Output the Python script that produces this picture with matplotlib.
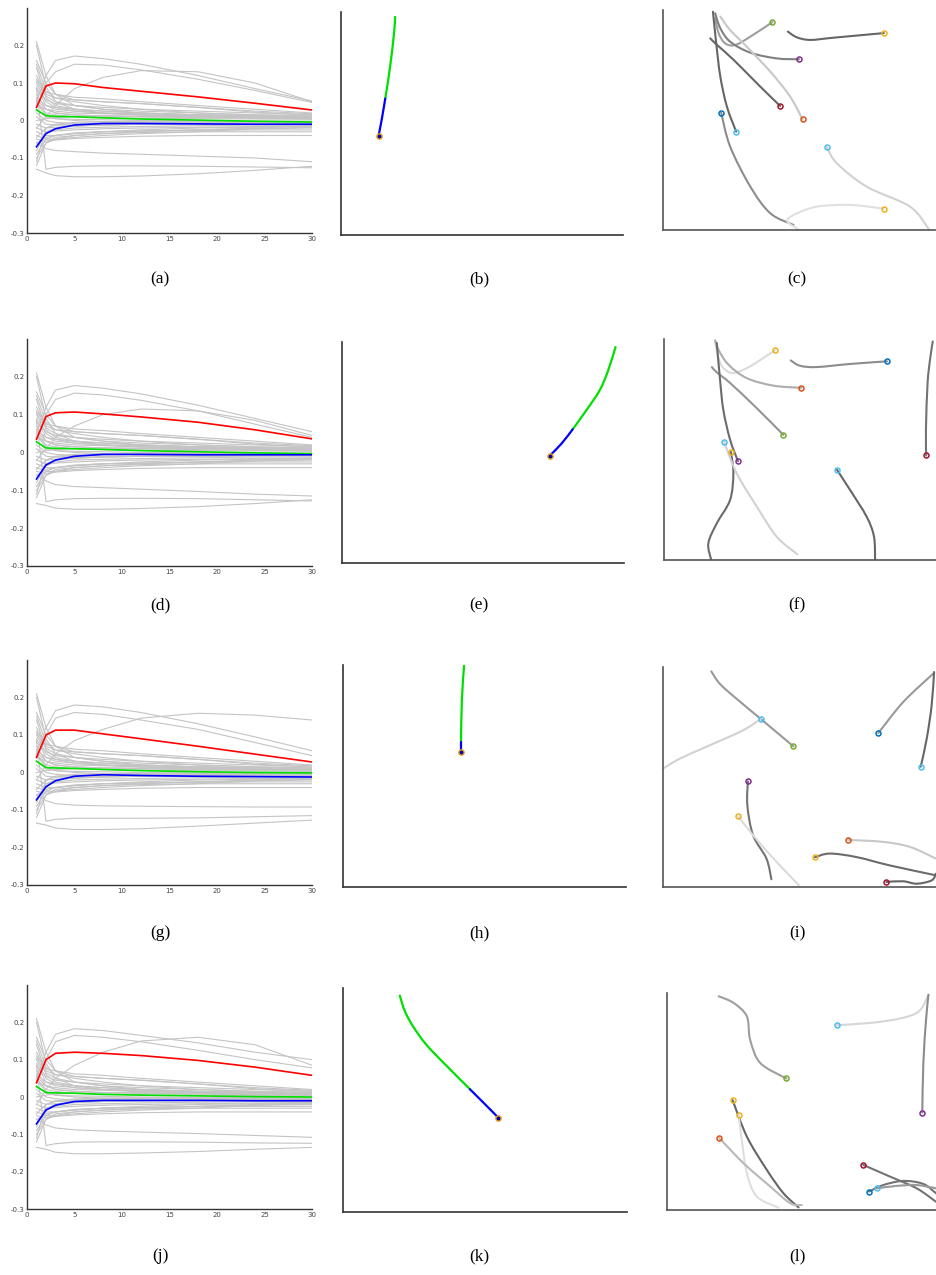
import matplotlib
matplotlib.use("Agg")
import matplotlib.pyplot as plt
from matplotlib.path import Path
from matplotlib.patches import PathPatch

W, H = 936, 1275
fig = plt.figure(figsize=(W / 100, H / 100), dpi=100)

# ---------------- data: impulse-response style panels (a, d, g, j) -------------
knots = [1, 2, 3, 5, 8, 12, 18, 24, 30]

common_gray = [
    [0.21, 0.12, 0.07, 0.04, 0.03, 0.02, 0.015, 0.012, 0.01],
    [0.20, 0.09, 0.05, 0.03, 0.02, 0.015, 0.01, 0.008, 0.006],
    [0.16, 0.10, 0.07, 0.055, 0.05, 0.045, 0.035, 0.025, 0.018],
    [0.15, 0.08, 0.06, 0.05, 0.04, 0.03, 0.02, 0.015, 0.012],
    [0.14, 0.06, 0.04, 0.03, 0.025, 0.02, 0.015, 0.012, 0.01],
    [0.12, 0.07, 0.06, 0.055, 0.05, 0.045, 0.035, 0.022, 0.015],
    [0.11, 0.075, 0.07, 0.062, 0.058, 0.05, 0.04, 0.03, 0.02],
    [0.105, 0.065, 0.05, 0.04, 0.03, 0.025, 0.02, 0.015, 0.012],
    [0.10, 0.05, 0.035, 0.025, 0.02, 0.015, 0.012, 0.01, 0.008],
    [0.09, 0.04, 0.03, 0.025, 0.02, 0.018, 0.015, 0.012, 0.01],
    [0.08, 0.055, 0.045, 0.04, 0.035, 0.03, 0.025, 0.02, 0.015],
    [0.07, 0.03, 0.02, 0.015, 0.012, 0.01, 0.008, 0.006, 0.005],
    [0.06, 0.04, 0.035, 0.03, 0.025, 0.02, 0.015, 0.012, 0.01],
    [0.055, 0.03, 0.02, 0.015, 0.012, 0.01, 0.008, 0.007, 0.006],
    [0.05, 0.02, 0.015, 0.01, 0.008, 0.006, 0.005, 0.004, 0.003],
    [0.045, 0.015, 0.005, 0.0, -0.003, -0.004, -0.005, -0.005, -0.005],
    [0.04, 0.03, 0.025, 0.02, 0.018, 0.015, 0.012, 0.01, 0.008],
    [0.03, 0.01, 0.005, 0.003, 0.002, 0.0, -0.001, -0.002, -0.002],
    [0.02, 0.0, -0.005, -0.008, -0.01, -0.01, -0.01, -0.008, -0.006],
    [0.01, -0.01, -0.012, -0.013, -0.012, -0.01, -0.008, -0.007, -0.006],
    [0.0, 0.005, 0.008, 0.01, 0.012, 0.012, 0.01, 0.008, 0.006],
    [-0.01, -0.02, -0.018, -0.015, -0.012, -0.01, -0.009, -0.008, -0.008],
    [-0.02, -0.03, -0.028, -0.025, -0.022, -0.02, -0.018, -0.016, -0.015],
    [-0.03, -0.04, -0.04, -0.035, -0.03, -0.025, -0.02, -0.018, -0.016],
    [-0.04, -0.05, -0.05, -0.045, -0.04, -0.035, -0.03, -0.022, -0.018],
    [-0.045, -0.02, -0.012, -0.008, -0.006, -0.005, -0.004, -0.004, -0.004],
    [-0.05, -0.055, -0.052, -0.048, -0.045, -0.042, -0.04, -0.04, -0.04],
    [-0.06, -0.045, -0.04, -0.035, -0.03, -0.028, -0.025, -0.022, -0.02],
    [-0.07, -0.035, -0.025, -0.02, -0.018, -0.016, -0.014, -0.012, -0.012],
    [-0.08, -0.03, -0.02, -0.015, -0.012, -0.01, -0.01, -0.009, -0.009],
    [-0.09, -0.05, -0.04, -0.033, -0.03, -0.028, -0.026, -0.025, -0.025],
    [-0.10, -0.06, -0.045, -0.04, -0.035, -0.032, -0.03, -0.03, -0.03],
    [-0.11, -0.02, -0.01, -0.005, -0.003, -0.002, -0.002, -0.002, -0.002],
    [-0.12, -0.06, -0.05, -0.04, -0.035, -0.03, -0.025, -0.02, -0.015],
]

gray_a = [
    [0.05, 0.12, 0.16, 0.172, 0.165, 0.15, 0.12, 0.085, 0.052],
    [0.06, 0.10, 0.13, 0.15, 0.148, 0.135, 0.11, 0.08, 0.048],
    [-0.02, 0.01, 0.04, 0.085, 0.115, 0.133, 0.13, 0.1, 0.05],
    [-0.06, -0.075, -0.08, -0.083, -0.087, -0.09, -0.095, -0.10, -0.11],
    [0.085, -0.13, -0.125, -0.122, -0.121, -0.121, -0.122, -0.124, -0.126],
    [-0.13, -0.14, -0.147, -0.15, -0.15, -0.148, -0.142, -0.133, -0.122],
]
red_a = [0.035, 0.092, 0.10, 0.098, 0.088, 0.078, 0.063, 0.046, 0.028]
green_a = [0.028, 0.013, 0.011, 0.010, 0.007, 0.004, 0.001, -0.002, -0.004]
blue_a = [-0.07, -0.035, -0.022, -0.012, -0.008, -0.008, -0.009, -0.010, -0.010]

gray_d = [
    [0.05, 0.12, 0.165, 0.177, 0.17, 0.155, 0.125, 0.09, 0.055],
    [0.06, 0.10, 0.14, 0.157, 0.152, 0.138, 0.11, 0.075, 0.04],
    [-0.02, 0.01, 0.04, 0.07, 0.10, 0.115, 0.11, 0.085, 0.045],
    [-0.06, -0.075, -0.085, -0.09, -0.093, -0.097, -0.103, -0.11, -0.115],
    [0.085, -0.13, -0.125, -0.122, -0.121, -0.121, -0.122, -0.125, -0.128],
    [-0.135, -0.14, -0.147, -0.15, -0.15, -0.148, -0.143, -0.135, -0.125],
]
red_d = [0.035, 0.095, 0.105, 0.107, 0.102, 0.094, 0.080, 0.060, 0.036]
green_d = [0.028, 0.012, 0.011, 0.010, 0.008, 0.005, 0.002, -0.001, -0.003]
blue_d = [-0.07, -0.033, -0.020, -0.010, -0.005, -0.005, -0.006, -0.006, -0.006]

gray_g = [
    [0.05, 0.12, 0.165, 0.18, 0.175, 0.16, 0.13, 0.095, 0.058],
    [0.06, 0.10, 0.145, 0.16, 0.155, 0.14, 0.115, 0.08, 0.045],
    [-0.02, 0.02, 0.05, 0.085, 0.115, 0.145, 0.158, 0.153, 0.14],
    [-0.06, -0.075, -0.083, -0.087, -0.089, -0.09, -0.091, -0.092, -0.092],
    [0.085, -0.13, -0.125, -0.122, -0.122, -0.122, -0.121, -0.118, -0.115],
    [-0.135, -0.14, -0.148, -0.152, -0.152, -0.15, -0.143, -0.135, -0.127],
]
red_g = [0.04, 0.10, 0.113, 0.113, 0.103, 0.090, 0.070, 0.049, 0.028]
green_g = [0.030, 0.013, 0.012, 0.011, 0.008, 0.005, 0.002, 0.000, -0.001]
blue_g = [-0.073, -0.038, -0.022, -0.010, -0.006, -0.008, -0.010, -0.011, -0.012]

gray_j = [
    [0.05, 0.12, 0.168, 0.183, 0.178, 0.165, 0.145, 0.12, 0.10],
    [0.06, 0.10, 0.148, 0.165, 0.16, 0.148, 0.125, 0.10, 0.078],
    [-0.02, 0.02, 0.05, 0.085, 0.12, 0.15, 0.16, 0.14, 0.085],
    [-0.06, -0.075, -0.083, -0.088, -0.091, -0.094, -0.098, -0.103, -0.108],
    [0.085, -0.13, -0.125, -0.121, -0.12, -0.12, -0.121, -0.123, -0.124],
    [-0.135, -0.14, -0.148, -0.152, -0.152, -0.15, -0.146, -0.14, -0.135],
]
red_j = [0.038, 0.10, 0.117, 0.120, 0.117, 0.111, 0.098, 0.080, 0.058]
green_j = [0.028, 0.012, 0.011, 0.010, 0.007, 0.005, 0.003, 0.001, 0.000]
blue_j = [-0.072, -0.035, -0.022, -0.012, -0.009, -0.009, -0.009, -0.010, -0.010]

x_ticks = [0, 5, 10, 15, 20, 25, 30]
y_ticks = [-0.3, -0.2, -0.1, 0, 0.1, 0.2]
y_ticklabels = ["-0.3", "-0.2", "-0.1", "0", "0.1", "0.2"]

# ---------------- data: single trajectory panels (b, e, h, k) -----------------
traj_b_blue = [(0.133, 0.443), (0.145, 0.522), (0.157, 0.612)]
traj_b_green = [(0.157, 0.612), (0.169, 0.709), (0.180, 0.813), (0.186, 0.881), (0.190, 0.933), (0.192, 0.978)]
traj_e_blue = [(0.737, 0.486), (0.779, 0.541), (0.818, 0.605)]
traj_e_green = [(0.818, 0.605), (0.867, 0.692), (0.914, 0.782), (0.944, 0.872), (0.970, 0.977)]
traj_h_blue = [(0.417, 0.608), (0.417, 0.655)]
traj_h_green = [(0.417, 0.655), (0.420, 0.842), (0.428, 1.0)]
traj_k_blue = [(0.547, 0.421), (0.497, 0.485), (0.447, 0.548)]
traj_k_green = [(0.447, 0.548), (0.365, 0.652), (0.294, 0.746), (0.247, 0.828), (0.218, 0.896), (0.200, 0.966)]

# ---------------- data: multi trajectory panels (c, f, i, l) ------------------
mc = {"blue": "#0072BD", "orange": "#D95319", "yellow": "#EDB120", "purple": "#7E2F8E",
      "green": "#77AC30", "lightblue": "#4DBEEE", "darkred": "#A2142F"}

tracks_c = [
    ("green", 0.62, [(0.401, 0.945), (0.320, 0.879), (0.265, 0.841), (0.228, 0.848), (0.204, 0.894), (0.191, 0.962)]),
    ("yellow", 0.40, [(0.809, 0.895), (0.624, 0.874), (0.539, 0.864), (0.490, 0.876), (0.457, 0.902)]),
    ("purple", 0.50, [(0.498, 0.776), (0.417, 0.780), (0.320, 0.806), (0.246, 0.856), (0.210, 0.917), (0.191, 0.985)]),
    ("darkred", 0.40, [(0.429, 0.564), (0.356, 0.652), (0.259, 0.773), (0.198, 0.841), (0.173, 0.871)]),
    ("orange", 0.78, [(0.511, 0.503), (0.466, 0.606), (0.393, 0.720), (0.307, 0.833), (0.246, 0.909), (0.210, 0.970)]),
    ("blue", 0.55, [(0.213, 0.533), (0.246, 0.379), (0.320, 0.197), (0.393, 0.076), (0.478, 0.023)]),
    ("lightblue", 0.40, [(0.268, 0.447), (0.234, 0.561), (0.210, 0.697), (0.195, 0.848), (0.183, 0.992)]),
    ("lightblue", 0.82, [(0.600, 0.377), (0.637, 0.303), (0.746, 0.197), (0.905, 0.106), (0.976, 0.0)]),
    ("yellow", 0.88, [(0.809, 0.097), (0.685, 0.114), (0.563, 0.106), (0.478, 0.068), (0.456, 0.038), (0.496, 0.003)]),
]
tracks_f = [
    ("yellow", 0.86, [(0.408, 0.949), (0.316, 0.876), (0.255, 0.846), (0.218, 0.869), (0.200, 0.914), (0.188, 0.989)]),
    ("blue", 0.55, [(0.820, 0.899), (0.684, 0.887), (0.561, 0.873), (0.500, 0.879), (0.466, 0.903)]),
    ("orange", 0.68, [(0.505, 0.779), (0.402, 0.789), (0.304, 0.823), (0.237, 0.884), (0.200, 0.952), (0.188, 0.994)]),
    ("green", 0.58, [(0.439, 0.566), (0.341, 0.687), (0.243, 0.801), (0.194, 0.849), (0.176, 0.873)]),
    ("purple", 0.42, [(0.272, 0.447), (0.243, 0.544), (0.218, 0.680), (0.206, 0.816), (0.194, 0.982)]),
    ("yellow", 0.42, [(0.246, 0.489), (0.255, 0.393), (0.243, 0.272), (0.194, 0.166), (0.163, 0.076), (0.173, 0.003)]),
    ("lightblue", 0.82, [(0.221, 0.535), (0.267, 0.393), (0.341, 0.242), (0.414, 0.106), (0.490, 0.026)]),
    ("lightblue", 0.40, [(0.636, 0.408), (0.684, 0.317), (0.745, 0.196), (0.772, 0.106), (0.776, 0.003)]),
    ("darkred", 0.45, [(0.964, 0.473), (0.963, 0.589), (0.969, 0.800), (0.978, 0.906), (0.988, 0.989)]),
]
tracks_i = [
    ("green", 0.60, [(0.478, 0.639), (0.358, 0.764), (0.269, 0.856), (0.208, 0.924), (0.177, 0.980)]),
    ("lightblue", 0.82, [(0.358, 0.764), (0.293, 0.712), (0.171, 0.644), (0.061, 0.583), (0.0, 0.538)]),
    ("blue", 0.60, [(0.789, 0.700), (0.880, 0.841), (0.990, 0.970)]),
    ("lightblue", 0.40, [(0.944, 0.547), (0.966, 0.674), (0.984, 0.826), (0.993, 0.977)]),
    ("purple", 0.45, [(0.311, 0.480), (0.309, 0.371), (0.330, 0.235), (0.379, 0.129), (0.397, 0.035)]),
    ("yellow", 0.86, [(0.276, 0.321), (0.330, 0.235), (0.416, 0.114), (0.498, 0.008)]),
    ("orange", 0.78, [(0.678, 0.214), (0.807, 0.205), (0.905, 0.182), (1.0, 0.129)]),
    ("yellow", 0.42, [(0.556, 0.135), (0.611, 0.152), (0.709, 0.136), (0.831, 0.098), (1.0, 0.053)]),
    ("darkred", 0.40, [(0.818, 0.023), (0.880, 0.026), (0.929, 0.015), (0.984, 0.030), (1.0, 0.061)]),
]
tracks_l = [
    ("green", 0.62, [(0.444, 0.606), (0.347, 0.677), (0.309, 0.785), (0.297, 0.892), (0.248, 0.954), (0.192, 0.985)]),
    ("lightblue", 0.84, [(0.631, 0.851), (0.804, 0.869), (0.928, 0.908), (0.972, 0.992)]),
    ("purple", 0.55, [(0.949, 0.449), (0.953, 0.677), (0.963, 0.877), (0.972, 0.992)]),
    ("yellow", 0.40, [(0.244, 0.506), (0.297, 0.338), (0.371, 0.185), (0.433, 0.077), (0.489, 0.012)]),
    ("yellow", 0.87, [(0.266, 0.440), (0.278, 0.323), (0.297, 0.169), (0.334, 0.062), (0.415, 0.011)]),
    ("orange", 0.72, [(0.194, 0.332), (0.285, 0.215), (0.384, 0.108), (0.458, 0.031), (0.501, 0.023)]),
    ("darkred", 0.45, [(0.729, 0.208), (0.829, 0.154), (0.928, 0.100), (1.0, 0.038)]),
    ("blue", 0.45, [(0.751, 0.085), (0.804, 0.115), (0.879, 0.134), (0.953, 0.120), (1.0, 0.077)]),
    ("lightblue", 0.60, [(0.780, 0.100), (0.854, 0.111), (0.928, 0.115), (1.0, 0.100)]),
]

panel_labels = ["(a)", "(b)", "(c)", "(d)", "(e)", "(f)", "(g)", "(h)", "(i)", "(j)", "(k)", "(l)"]

# ---------------- layout (pixels: left, top, right, bottom) -------------------
rows_a = [(27, 8, 312, 233), (27, 339, 312, 566), (27, 660, 312, 885), (27, 985, 312, 1209)]
rows_b = [(341, 12, 623, 235), (342, 342, 624, 563), (343, 665, 626, 887), (343, 988, 627, 1212)]
rows_c = [(663, 10, 936, 230), (664, 339, 936, 560), (663, 667, 936, 887), (667, 993, 936, 1210)]
label_y = [279, 605, 933, 1256]
label_x = [160, 479, 797]


def add_ax(box):
    l, t, r, b = box
    return fig.add_axes([l / W, 1 - b / H, (r - l) / W, (b - t) / H])


def smooth_path(pts):
    """Catmull-Rom curve through all points, drawn as cubic Bezier segments."""
    n = len(pts)
    verts = [pts[0]]
    codes = [Path.MOVETO]
    if n == 2:
        verts.append(pts[1]); codes.append(Path.LINETO)
        return Path(verts, codes)
    for i in range(n - 1):
        p0 = pts[i - 1] if i > 0 else pts[i]
        p1 = pts[i]
        p2 = pts[i + 1]
        p3 = pts[i + 2] if i + 2 < n else pts[i + 1]
        c1 = (p1[0] + (p2[0] - p0[0]) / 6, p1[1] + (p2[1] - p0[1]) / 6)
        c2 = (p2[0] - (p3[0] - p1[0]) / 6, p2[1] - (p3[1] - p1[1]) / 6)
        verts += [c1, c2, p2]
        codes += [Path.CURVE4, Path.CURVE4, Path.CURVE4]
    return Path(verts, codes)


def style_spines(ax, color="#333333", lw=1.0):
    for s in ["top", "right"]:
        ax.spines[s].set_visible(False)
    for s in ["left", "bottom"]:
        ax.spines[s].set_color(color)
        ax.spines[s].set_linewidth(lw)


irf_sets = [(gray_a, red_a, green_a, blue_a), (gray_d, red_d, green_d, blue_d),
            (gray_g, red_g, green_g, blue_g), (gray_j, red_j, green_j, blue_j)]
traj_sets = [(traj_b_blue, traj_b_green), (traj_e_blue, traj_e_green),
             (traj_h_blue, traj_h_green), (traj_k_blue, traj_k_green)]
track_sets = [tracks_c, tracks_f, tracks_i, tracks_l]

for r in range(4):
    ax = add_ax(rows_a[r])
    grays, red, green, blue = irf_sets[r]
    for g in common_gray + grays:
        ax.plot(knots, g, color="#c4c4c4", lw=0.8, solid_joinstyle="round")
    ax.plot(knots, red, color="#ff0000", lw=1.2)
    ax.plot(knots, green, color="#00e000", lw=1.2)
    ax.plot(knots, blue, color="#0000ff", lw=1.2)
    ax.set_xlim(0, 30)
    ax.set_ylim(-0.3, 0.3)
    ax.set_xticks(x_ticks)
    ax.set_xticklabels([str(v) for v in x_ticks])
    ax.set_yticks(y_ticks)
    ax.set_yticklabels(y_ticklabels)
    ax.tick_params(length=0, labelsize=5, colors="#444444", pad=2)
    style_spines(ax)

    ax = add_ax(rows_b[r])
    bl, gr = traj_sets[r]
    ax.add_patch(PathPatch(smooth_path(gr), fill=False, edgecolor="#00e000", lw=1.6, capstyle="round"))
    ax.add_patch(PathPatch(smooth_path(bl), fill=False, edgecolor="#0000ff", lw=1.6, capstyle="round"))
    ax.plot([bl[0][0]], [bl[0][1]], "o", ms=3.8, mfc="#0000aa", mec="#f0a020", mew=1.0)
    ax.set_xlim(0, 1)
    ax.set_ylim(0, 1)
    ax.set_xticks([])
    ax.set_yticks([])
    style_spines(ax, "#333333", 1.2)

    ax = add_ax(rows_c[r])
    for col, lev, pts in track_sets[r]:
        ax.add_patch(PathPatch(smooth_path(pts), fill=False, edgecolor=(lev, lev, lev),
                               lw=1.5, capstyle="round", clip_on=False))
    for col, lev, pts in track_sets[r]:
        ax.plot([pts[0][0]], [pts[0][1]], "o", ms=3.6, mfc="none", mec=mc[col], mew=1.1, clip_on=False)
    ax.set_xlim(0, 1)
    ax.set_ylim(0, 1)
    ax.set_xticks([])
    ax.set_yticks([])
    style_spines(ax, "#555555", 1.2)

    for c in range(3):
        fig.text(label_x[c] / W, 1 - label_y[r] / H, panel_labels[r * 3 + c],
                 ha="center", va="center", fontsize=12.5,
                 family=["Liberation Serif", "DejaVu Serif"])

fig.savefig("out.png", dpi=100)
